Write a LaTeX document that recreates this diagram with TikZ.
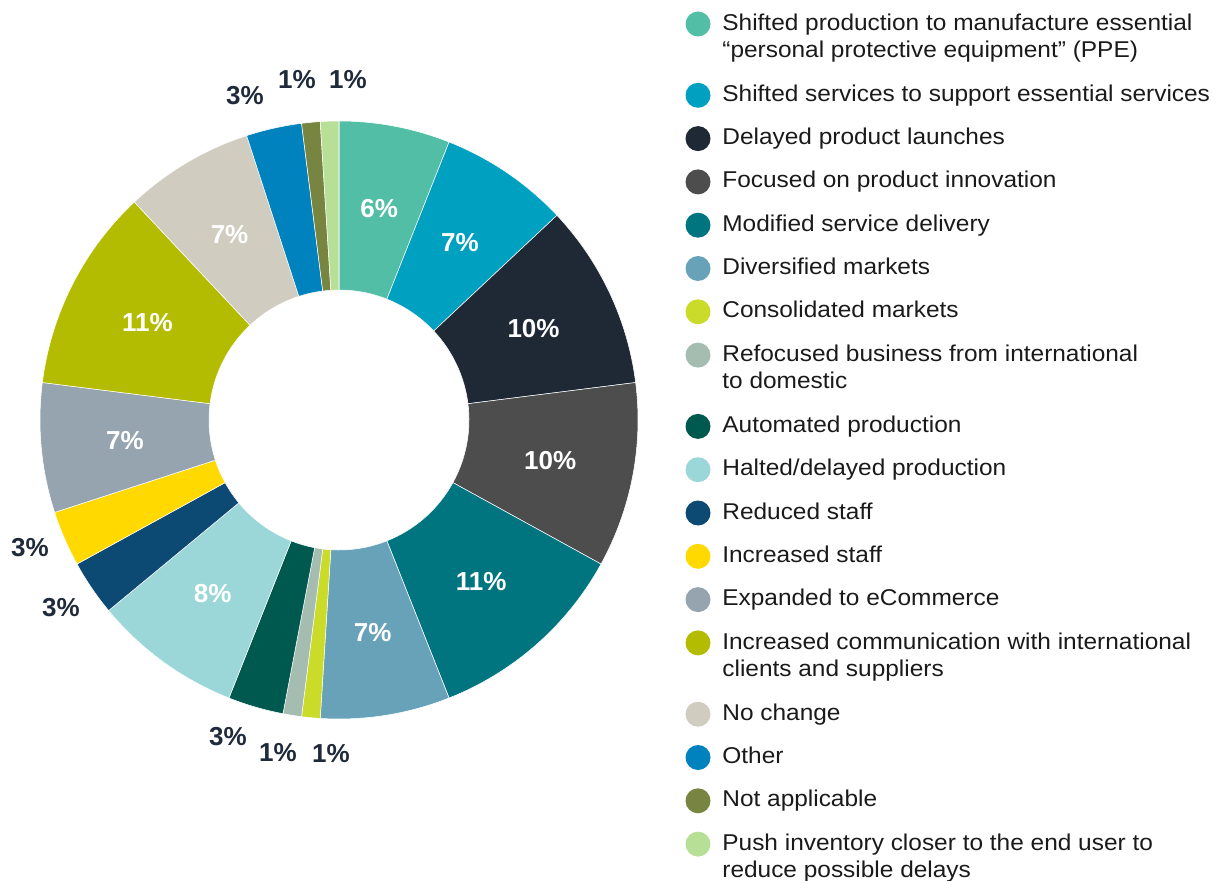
\documentclass[tikz,border=0pt]{standalone}
\usepackage{fontspec}
\setmainfont{Liberation Sans}
\newfontfamily\legfont{Liberation Sans}[FakeStretch=1.07]
\usepackage{tikz}
\usetikzlibrary{positioning}
\definecolor{ppegreen}{HTML}{52BEA5}
\definecolor{servicecyan}{HTML}{00A0C1}
\definecolor{delaynavy}{HTML}{1E2935}
\definecolor{innovgray}{HTML}{4D4D4D}
\definecolor{modteal}{HTML}{007580}
\definecolor{diverblue}{HTML}{68A2B9}
\definecolor{consolime}{HTML}{CADB2A}
\definecolor{refocsage}{HTML}{A5BDB1}
\definecolor{autogreen}{HTML}{00594F}
\definecolor{haltcyan}{HTML}{9BD7D9}
\definecolor{reducenavy}{HTML}{0C4A73}
\definecolor{incyellow}{HTML}{FFD900}
\definecolor{ecomgray}{HTML}{95A4AE}
\definecolor{commolive}{HTML}{B3BC00}
\definecolor{nochbeige}{HTML}{D0CDC0}
\definecolor{otherblue}{HTML}{0082BF}
\definecolor{naolive}{HTML}{788540}
\definecolor{pushgreen}{HTML}{B7DF96}
\definecolor{labnavy}{HTML}{1F2B3A}
\definecolor{legblack}{HTML}{1A1A1A}

\begin{document}
\begin{tikzpicture}[x=0.02cm, y=0.02cm,
  slice/.style={draw=white, line width=0.3pt},
  inlabel/.style={text=white, font=\fontsize{14.8}{17}\selectfont\bfseries},
  outlabel/.style={text=labnavy, font=\fontsize{14.8}{17}\selectfont\bfseries},
  legdot/.style={circle, fill=#1, minimum size=0.5cm, inner sep=0pt},
  legtext/.style={text=legblack, font=\legfont\fontsize{13}{15.7}\selectfont, align=left, inner sep=0pt, anchor=base west}]
  \useasboundingbox (0,0) rectangle (1219,-881);

  % donut slices, clockwise from the top
  \begin{scope}[shift={(339,-420)}]
    \foreach \a/\b/\col in {0/6/ppegreen, 6/13/servicecyan, 13/23/delaynavy, 23/33/innovgray,
      33/44/modteal, 44/51/diverblue, 51/52/consolime, 52/53/refocsage, 53/56/autogreen,
      56/64/haltcyan, 64/67/reducenavy, 67/70/incyellow, 70/77/ecomgray, 77/88/commolive,
      88/95/nochbeige, 95/98/otherblue, 98/99/naolive, 99/100/pushgreen}
    {
      \filldraw[fill=\col, slice] ({90-3.6*\a}:130) arc[start angle={90-3.6*\a}, end angle={90-3.6*\b}, radius=130]
        -- ({90-3.6*\b}:299) arc[start angle={90-3.6*\b}, end angle={90-3.6*\a}, radius=299] -- cycle;
    }
    % labels inside the big slices
    \foreach \m/\p [count=\i] in {3/6, 9.5/7, 18/10, 28/10, 38.5/11, 47.5/7, 60/8, 73.5/7, 82.5/11, 91.5/7}
      \node[inlabel] (in\i) at ({90-3.6*\m}:215) {\p\%};
  \end{scope}

  % labels outside the small slices
  \node[outlabel] (out1) at (245,-96) {3\%};
  \node[outlabel] (out2) at (297,-80) {1\%};
  \node[outlabel] (out3) at (348,-80) {1\%};
  \node[outlabel] (out4) at (30,-548) {3\%};
  \node[outlabel] (out5) at (61,-608) {3\%};
  \node[outlabel] (out6) at (228,-737) {3\%};
  \node[outlabel] (out7) at (278,-753) {1\%};
  \node[outlabel] (out8) at (331,-754) {1\%};

  % legend (\n = extra lines, the base anchor sits on the last line)
  \foreach \y/\n/\col/\txt [count=\i] in {
    24/1/ppegreen/{Shifted production to manufacture essential\\“personal protective equipment” (PPE)},
    95.3/0/servicecyan/{Shifted services to support essential services},
    138.6/0/delaynavy/{Delayed product launches},
    181.9/0/innovgray/{Focused on product innovation},
    225.2/0/modteal/{Modified service delivery},
    268.5/0/diverblue/{Diversified markets},
    311.8/0/consolime/{Consolidated markets},
    355.1/1/refocsage/{Refocused business from international\\to domestic},
    426.4/0/autogreen/{Automated production},
    469.7/0/haltcyan/{Halted/delayed production},
    513/0/reducenavy/{Reduced staff},
    556.3/0/incyellow/{Increased staff},
    599.6/0/ecomgray/{Expanded to eCommerce},
    642.9/1/commolive/{Increased communication with international\\clients and suppliers},
    714.2/0/nochbeige/{No change},
    757.5/0/otherblue/{Other},
    800.8/0/naolive/{Not applicable},
    844.1/1/pushgreen/{Push inventory closer to the end user to\\reduce possible delays}}
  {
    \node[legdot=\col] (dot\i) at (698,-\y) {};
    \node[legtext] (leg\i) at (722,-\y-6-27.7*\n) {\txt};
  }
\end{tikzpicture}
\end{document}
